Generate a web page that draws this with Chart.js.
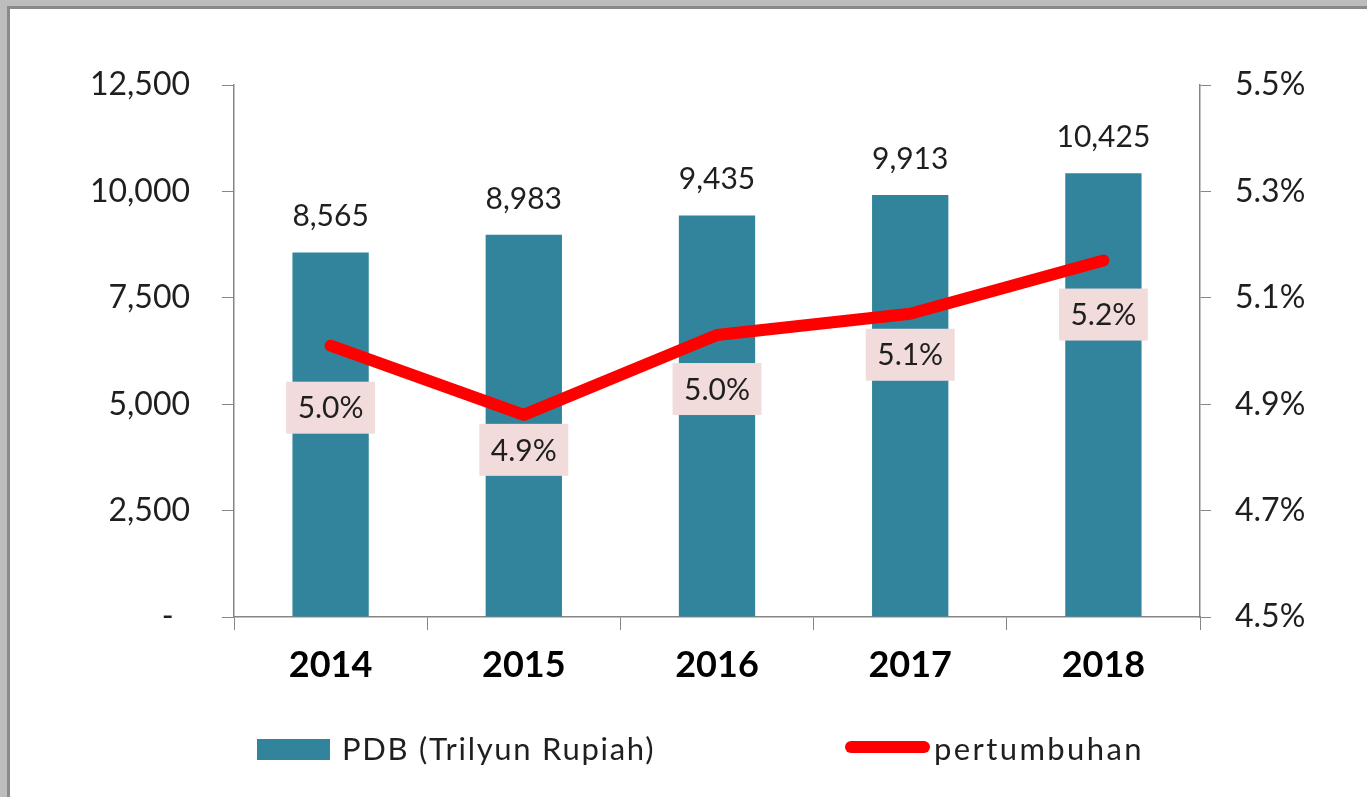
<!DOCTYPE html>
<html>
<head>
<meta charset="utf-8">
<script src="https://cdn.jsdelivr.net/npm/chart.js@4"></script>
<style>
  html, body { margin: 0; padding: 0; }
  body { background: #bdbdbd; width: 1367px; height: 797px; overflow: hidden; }
  #frame {
    position: absolute; left: 7px; top: 6px; width: 1360px; height: 791px;
    border-left: 3px solid #8a8a8a; border-top: 3px solid #8a8a8a; background: #fff;
  }
  canvas { display: block; }
</style>
</head>
<body>
<div id="frame"><canvas id="pdb" width="1357" height="788"></canvas></div>
<script>
const years = ["2014", "2015", "2016", "2017", "2018"];
const pdb = [8565, 8983, 9435, 9913, 10425];
const growth = [5.01, 4.88, 5.03, 5.07, 5.17];
const pdbAxis = [0, 12500, 2500];      // min, max, step
const growthAxis = [4.5, 5.5, 0.2];    // min, max, step
const pdbLabel = "PDB (Trilyun Rupiah)";
const growthLabel = "pertumbuhan";

// how far below each point the growth label box sits (px)
const growthLabelDrop = [62, 35, 54, 41, 54];

const FONT = "Lato, 'Open Sans', sans-serif";
const TEXT = "#1f1f1f";
const AXIS = "#868686";

// draws the value labels and the legend, like the excel original
const labelsPlugin = {
  id: "labels",
  afterDatasetsDraw(chart) {
    const ctx = chart.ctx;
    const bars = chart.getDatasetMeta(1).data;
    const pts = chart.getDatasetMeta(0).data;
    ctx.save();
    ctx.fillStyle = TEXT;
    ctx.font = "30px " + FONT;
    ctx.textAlign = "center";
    ctx.textBaseline = "alphabetic";
    bars.forEach((b, i) => {
      ctx.fillText(pdb[i].toLocaleString("en-US"), b.x, b.y - 26);
    });

    ctx.textBaseline = "middle";
    pts.forEach((p, i) => {
      const txt = growth[i].toFixed(1) + "%";
      const w = ctx.measureText(txt).width + 23;
      const cy = p.y + growthLabelDrop[i];
      ctx.fillStyle = "#f2dcdb";
      ctx.fillRect(p.x - w / 2, cy - 26, w, 52);
      ctx.fillStyle = TEXT;
      ctx.fillText(txt, p.x, cy + 1);
    });
    ctx.restore();
  },
  afterDraw(chart) {
    const ctx = chart.ctx;
    const area = chart.chartArea;
    const ly = area.bottom + 132;
    ctx.save();
    // bar entry
    let x = area.left + 23;
    ctx.fillStyle = chart.data.datasets[1].backgroundColor;
    ctx.fillRect(x, ly - 10, 73, 21);
    ctx.fillStyle = TEXT;
    ctx.font = "31px " + FONT;
    ctx.letterSpacing = "1.7px";
    ctx.textAlign = "left";
    ctx.textBaseline = "middle";
    ctx.fillText(pdbLabel, x + 85, ly + 1);
    // line entry
    x = area.left + 617;
    ctx.strokeStyle = chart.data.datasets[0].borderColor;
    ctx.lineWidth = 12;
    ctx.lineCap = "round";
    ctx.beginPath();
    ctx.moveTo(x, ly - 2);
    ctx.lineTo(x + 73, ly - 2);
    ctx.stroke();
    ctx.letterSpacing = "2.4px";
    ctx.fillText(growthLabel, x + 83, ly + 1);
    ctx.restore();
  },
};

const ctx = document.getElementById("pdb");
new Chart(ctx, {
  type: "bar",
  data: {
    labels: years,
    datasets: [
      {
        type: "line",
        label: growthLabel,
        data: growth,
        yAxisID: "y1",
        borderColor: "#ff0000",
        backgroundColor: "#ff0000",
        borderWidth: 12,
        borderCapStyle: "round",
        borderJoinStyle: "round",
        pointRadius: 0,
        tension: 0,
        order: 0,
      },
      {
        label: pdbLabel,
        data: pdb,
        yAxisID: "y",
        backgroundColor: "#31849b",
        categoryPercentage: 1,
        barPercentage: 0.395,
        order: 1,
      },
    ],
  },
  options: {
    responsive: false,
    animation: false,
    layout: { padding: { top: 76, left: 0, right: 0, bottom: 0 } },
    plugins: {
      legend: { display: false },
      tooltip: { enabled: false },
    },
    scales: {
      x: {
        offset: true,
        grid: { drawOnChartArea: false, offset: true, tickLength: 13, color: AXIS },
        border: { color: AXIS, width: 1.5 },
        ticks: { color: "#000", font: { family: FONT, size: 36, weight: "bold" }, padding: 14 },
        afterFit: (s) => { s.height = 180; },
      },
      y: {
        position: "left",
        min: pdbAxis[0],
        max: pdbAxis[1],
        grid: { drawOnChartArea: false, tickLength: 12, color: AXIS },
        border: { color: AXIS, width: 1.5 },
        ticks: {
          stepSize: pdbAxis[2],
          color: TEXT,
          padding: 32,
          font: { family: FONT, size: 32 },
          callback: (v) => (v === 0 ? "-  " : v.toLocaleString("en-US")),
        },
        afterFit: (s) => { s.width = 224; },
      },
      y1: {
        position: "right",
        min: growthAxis[0],
        max: growthAxis[1],
        grid: { drawOnChartArea: false, tickLength: 11, color: AXIS },
        border: { color: AXIS, width: 1.5 },
        ticks: {
          stepSize: growthAxis[2],
          color: TEXT,
          padding: 24,
          font: { family: FONT, size: 32 },
          callback: (v) => v.toFixed(1) + "%",
        },
        afterFit: (s) => { s.width = 167; },
      },
    },
  },
  plugins: [labelsPlugin],
});
</script>
</body>
</html>
